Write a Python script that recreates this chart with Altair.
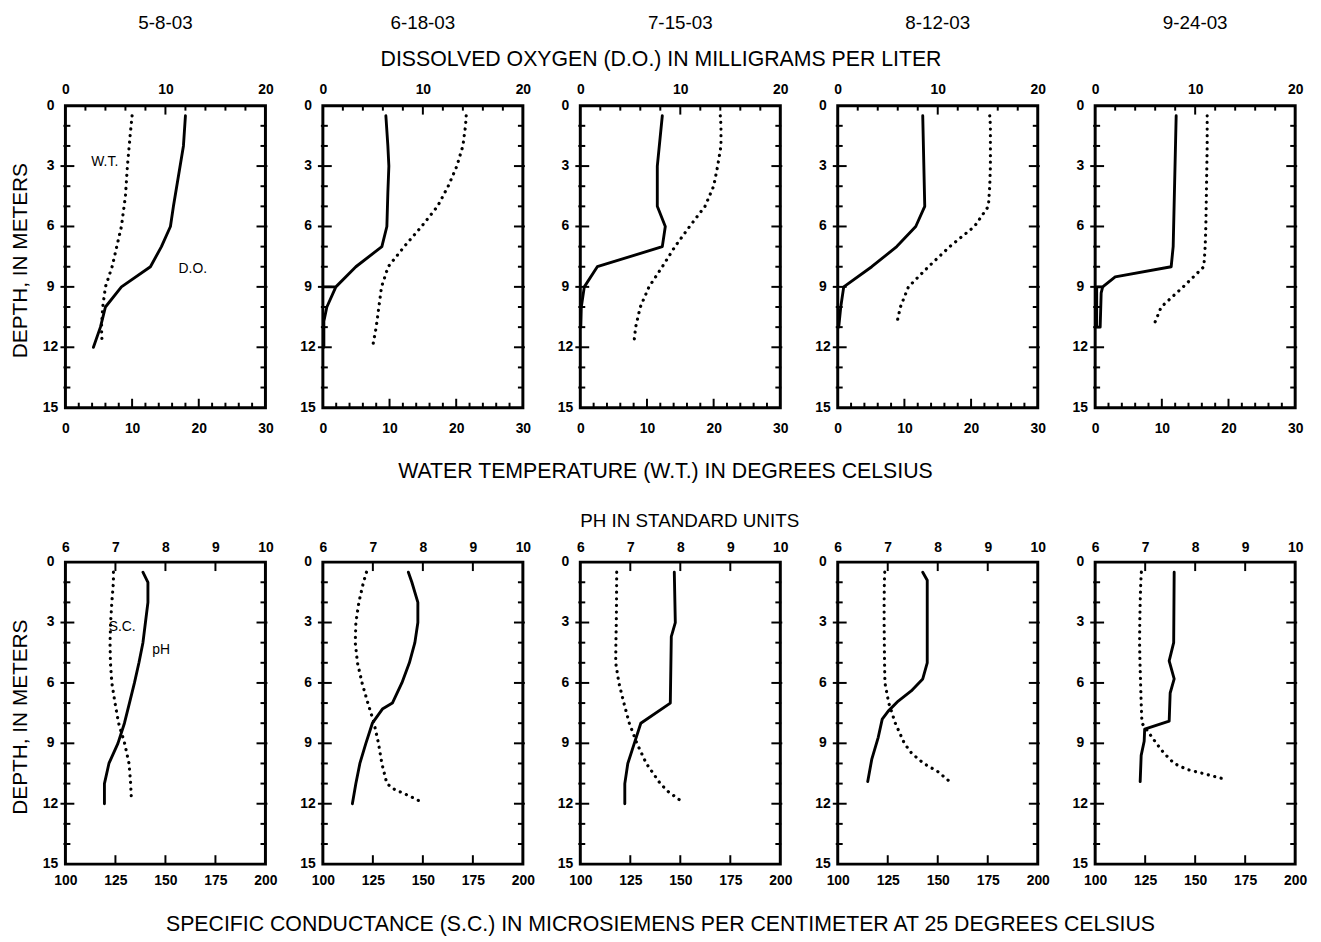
import altair as alt
import pandas as pd

FONT = "Liberation Sans"

DATES = ["5-8-03", "6-18-03", "7-15-03", "8-12-03", "9-24-03"]

# ---- top row: (depth m, dissolved oxygen mg/L) and (depth m, water temperature deg C)
DO_0508 = [(0.5, 12.0), (2, 11.8), (5, 10.8), (6, 10.5), (7, 9.6), (8, 8.5), (9, 5.6),
           (10, 4.0), (11, 3.5), (12, 2.8)]
WT_0508 = [(0.5, 10.0), (1.5, 9.7), (3, 9.3), (4.5, 9.0), (6, 8.4), (7, 7.7), (8, 7.0),
           (9, 6.0), (10, 5.6), (11, 5.4), (11.8, 5.5)]

DO_0618 = [(0.5, 6.3), (2, 6.5), (3, 6.6), (4.3, 6.5), (6, 6.4), (7, 5.9), (8, 3.3),
           (9, 1.3), (9, 0.05), (9, 1.3), (10, 0.4), (10.7, 0.1), (12, 0.1)]
WT_0618 = [(0.5, 21.5), (1, 21.4), (2, 21.0), (3, 20.1), (4, 18.8), (5, 17.2), (6, 14.8),
           (7, 12.2), (8, 9.8), (9, 8.8), (10, 8.4), (11, 8.0), (11.9, 7.5)]

DO_0715 = [(0.5, 8.2), (3, 7.7), (5, 7.7), (6, 8.5), (7, 8.2), (8, 1.7), (9, 0.4),
           (10, 0.1), (11, 0.05)]
WT_0715 = [(0.5, 21.0), (1, 21.1), (2, 21.1), (3, 20.6), (4, 20.0), (5, 18.7), (6, 16.4),
           (7, 14.2), (8, 12.3), (9, 10.3), (10, 9.0), (11, 8.3), (11.9, 8.0)]

DO_0812 = [(0.5, 8.5), (5, 8.7), (6, 7.8), (7, 5.9), (8, 3.4), (9, 0.6), (10, 0.3),
           (11, 0.1)]
WT_0812 = [(0.5, 22.8), (1, 22.9), (2, 22.9), (3, 22.9), (4, 22.8), (5, 22.6), (6, 20.5),
           (7, 16.8), (8, 13.6), (9, 10.6), (10, 9.4), (10.9, 8.8)]

DO_0924 = [(0.5, 8.1), (7, 7.8), (8, 7.6), (8.5, 2.0), (9, 0.75), (9, 0.15), (11, 0.15),
           (11, 0.5), (9.3, 0.6), (9, 0.75)]
WT_0924 = [(0.5, 16.8), (2, 16.8), (4, 16.7), (6, 16.6), (7, 16.5), (8, 16.3), (9, 13.2),
           (10, 9.9), (10.9, 8.8)]

# ---- bottom row: (depth m, pH) and (depth m, specific conductance uS/cm)
PH_0508 = [(0.5, 7.55), (1, 7.65), (2, 7.65), (3, 7.6), (4, 7.55), (5, 7.47), (6, 7.38),
           (7, 7.28), (8, 7.18), (9, 7.05), (10, 6.87), (11, 6.78), (12, 6.78)]
SC_0508 = [(0.5, 124), (1, 124), (2, 123.2), (3, 122.6), (4, 122.3), (5, 122.5), (6, 123.2),
           (7, 124.8), (8, 126.6), (9, 129.6), (10, 131.8), (11, 132.6), (11.8, 133)]

PH_0618 = [(0.5, 7.71), (1, 7.78), (2, 7.9), (3, 7.9), (4, 7.84), (5, 7.73), (6, 7.58),
           (7, 7.39), (7.3, 7.19), (8, 6.99), (9, 6.86), (10, 6.74), (11, 6.66), (12, 6.59)]
SC_0618 = [(0.5, 121.8), (1, 120.3), (2, 118), (3, 116.5), (4, 116.2), (5, 117.3),
           (6, 119.6), (7, 122.5), (8, 125.6), (9, 127.8), (10, 129.5), (11, 132),
           (11.3, 136), (11.6, 143), (11.9, 149)]

PH_0715 = [(0.5, 7.88), (3, 7.9), (3.7, 7.82), (7, 7.8), (8, 7.21), (9, 7.08), (10, 6.95),
           (11, 6.89), (12, 6.89)]
SC_0715 = [(0.5, 118.2), (2, 118.1), (3, 118), (4, 117.8), (5, 117.7), (6, 119.3),
           (7, 121.8), (8, 124.5), (9, 128.3), (10, 133), (11, 140), (11.4, 144), (11.8, 149.5)]

PH_0812 = [(0.5, 7.7), (0.9, 7.79), (5, 7.79), (5.8, 7.7), (6.4, 7.47), (6.9, 7.21),
           (7.4, 7.01), (7.8, 6.89), (8.7, 6.81), (9.8, 6.68), (10.9, 6.6)]
SC_0812 = [(0.5, 123.5), (1, 123.3), (2, 123.2), (3, 123.2), (4, 123.3), (5, 123.4),
           (6, 123.6), (7, 125.5), (8, 128.8), (9, 133.3), (9.5, 137), (10, 143),
           (10.4, 150), (10.9, 156)]

PH_0924 = [(0.5, 7.58), (4, 7.57), (4.9, 7.48), (5.8, 7.58), (6.5, 7.5), (7.9, 7.48),
           (8.3, 6.99), (8.9, 6.98), (9.6, 6.92), (10.9, 6.9)]
SC_0924 = [(0.5, 123.1), (1, 122.8), (2, 122.5), (3, 122.3), (4, 122.2), (5, 122.4),
           (6, 122.7), (7, 123), (8, 123.4), (8.5, 127), (9, 130.6), (9.5, 134.5),
           (10, 139.5), (10.3, 146), (10.5, 154), (10.8, 165.5)]

TOP_SOLID = [DO_0508, DO_0618, DO_0715, DO_0812, DO_0924]
TOP_DOTTED = [WT_0508, WT_0618, WT_0715, WT_0812, WT_0924]
BOT_SOLID = [PH_0508, PH_0618, PH_0715, PH_0812, PH_0924]
BOT_DOTTED = [SC_0508, SC_0618, SC_0715, SC_0812, SC_0924]

# ---- axes
DEPTH_DOMAIN = [0, 15]
DEPTH_LABELS = [0, 3, 6, 9, 12, 15]
DEPTH_MAJOR = [3, 6, 9, 12]
DEPTH_MINOR = [1, 2, 4, 5, 7, 8, 10, 11, 13, 14]

DO_DOMAIN = [0, 20]
DO_LABELS = [0, 10, 20]
DO_MAJOR = [10]
DO_MINOR = [2, 4, 6, 8, 12, 14, 16, 18]

WT_DOMAIN = [0, 30]
WT_LABELS = [0, 10, 20, 30]
WT_MAJOR = [10, 20]
WT_MINOR = [2, 4, 6, 8, 12, 14, 16, 18, 22, 24, 26, 28]

PH_DOMAIN = [6, 10]
PH_LABELS = [6, 7, 8, 9, 10]
PH_MAJOR = [7, 8, 9]
PH_MINOR = []

SC_DOMAIN = [100, 200]
SC_LABELS = [100, 125, 150, 175, 200]
SC_MAJOR = [125, 150, 175]
SC_MINOR = []

TOP_TITLE = "DISSOLVED OXYGEN (D.O.) IN MILLIGRAMS PER LITER"
TOP_XTITLE = "WATER TEMPERATURE (W.T.) IN DEGREES CELSIUS"
BOT_TITLE = "PH IN STANDARD UNITS"
BOT_XTITLE = "SPECIFIC CONDUCTANCE (S.C.) IN MICROSIEMENS PER CENTIMETER AT 25 DEGREES CELSIUS"
YTITLE = "DEPTH, IN METERS"

# annotation labels: (text, value on the dotted-line scale, depth)
TOP_NOTES = [("W.T.", 5.9, 2.8), ("D.O.", 19.1, 8.1)]
BOT_NOTES = [("S.C.", 128.4, 3.2), ("pH", 147.8, 4.35)]

W = 202
H = 305


def series_df(pairs):
    return pd.DataFrame({"depth": [p[0] for p in pairs],
                         "v": [p[1] for p in pairs],
                         "seq": list(range(len(pairs)))})


def yscale():
    return alt.Scale(domain=DEPTH_DOMAIN, reverse=True, nice=False, zero=False)


def ydepth():
    return alt.Y("depth:Q", scale=yscale(), axis=None)


def xscale(dom):
    return alt.Scale(domain=dom, nice=False, zero=False)


def label_axis(orient, values, pad):
    return alt.Axis(orient=orient, values=values, ticks=False, tickSize=0, domain=False,
                    grid=False, labelPadding=pad, labelFont=FONT, labelFontSize=14,
                    labelFontWeight="bold", labelColor="black", labelFlush=False,
                    labelOverlap=False, format="d", title=None)


def xrules(vals, dom, y0, y1):
    return alt.Chart(pd.DataFrame({"v": vals})).mark_rule(color="black", strokeWidth=2).encode(
        x=alt.X("v:Q", scale=xscale(dom), axis=None),
        y=alt.value(y0), y2=alt.value(y1))


def yrules(vals, x0, x1):
    return alt.Chart(pd.DataFrame({"depth": vals})).mark_rule(color="black", strokeWidth=2).encode(
        y=ydepth(), x=alt.value(x0), x2=alt.value(x1))


def text(t, x, y, size, angle=0):
    return alt.Chart(pd.DataFrame({"t": [t]})).mark_text(
        font=FONT, fontSize=size, color="black", angle=angle,
        align="center", baseline="middle").encode(
        text="t:N", x=alt.value(x), y=alt.value(y))


def panel(i, solid, dotted, sdom, ddom, slabels, dlabels, smaj, smin, dmaj, dmin,
          pad_top, pad_bot, extra, notes):
    layers = [
        alt.Chart(series_df(solid)).mark_line(color="black", strokeWidth=2.9,
                                              strokeJoin="round", strokeCap="round").encode(
            x=alt.X("v:Q", scale=xscale(sdom), axis=label_axis("top", slabels, pad_top)),
            y=ydepth(), order="seq:Q"),
        alt.Chart(series_df(dotted)).mark_line(color="black", strokeWidth=3.2,
                                               strokeDash=[0.1, 6.6], strokeCap="round").encode(
            x=alt.X("v:Q", scale=xscale(ddom), axis=label_axis("bottom", dlabels, pad_bot)),
            y=ydepth(), order="seq:Q"),
        # depth labels drawn through the shared depth scale
        alt.Chart(pd.DataFrame({"depth": DEPTH_LABELS})).mark_text(
            font=FONT, fontSize=14, fontWeight="bold", color="black",
            align="center", baseline="middle").encode(
            text=alt.Text("depth:Q", format="d"), y=ydepth(), x=alt.value(-15)),
        # inward tick marks
        yrules(DEPTH_MINOR, -2, 5),
        yrules(DEPTH_MAJOR, -5, 9),
        yrules(DEPTH_MINOR, W - 5, W + 1),
        yrules(DEPTH_MAJOR, W - 9, W + 2),
    ]
    if smin:
        layers.append(xrules(smin, sdom, 0, 5))
    if smaj:
        layers.append(xrules(smaj, sdom, 0, 9))
    if dmin:
        layers.append(xrules(dmin, ddom, H - 5, H))
    if dmaj:
        layers.append(xrules(dmaj, ddom, H - 9, H))
    for args in extra:
        layers.append(text(*args))
    if notes:
        nd = pd.DataFrame({"t": [n[0] for n in notes], "x": [n[1] for n in notes],
                           "depth": [n[2] for n in notes]})
        layers.append(alt.Chart(nd).mark_text(font=FONT, fontSize=14, color="black",
                                              align="center", baseline="middle").encode(
            text="t:N",
            x=alt.X("x:Q", scale=xscale(ddom), axis=None),
            y=ydepth()))
    return alt.layer(*layers).resolve_scale(x="independent").properties(width=W, height=H)


top_panels = []
bot_panels = []
for i in range(5):
    extra_top = [(DATES[i], W / 2, -83, 19)]
    extra_bot = []
    if i == 0:
        extra_top.append((YTITLE, -45, H / 2 + 4, 21, 270))
        extra_bot.append((YTITLE, -45, H / 2 + 4, 21, 270))
    if i == 2:
        extra_top.append((TOP_TITLE, 81.5, -46, 21.5))
        extra_top.append((TOP_XTITLE, 86, H + 65, 21.5))
        extra_bot.append((BOT_TITLE, 110.5, -41, 19))
        extra_bot.append((BOT_XTITLE, 81, H + 62, 21.5))
    top_panels.append(panel(i, TOP_SOLID[i], TOP_DOTTED[i], DO_DOMAIN, WT_DOMAIN,
                            DO_LABELS, WT_LABELS, DO_MAJOR, DO_MINOR, WT_MAJOR, WT_MINOR,
                            9, 14, extra_top, TOP_NOTES if i == 0 else []))
    bot_panels.append(panel(i, BOT_SOLID[i], BOT_DOTTED[i], PH_DOMAIN, SC_DOMAIN,
                            PH_LABELS, SC_LABELS, PH_MAJOR, PH_MINOR, SC_MAJOR, SC_MINOR,
                            8, 10, extra_bot, BOT_NOTES if i == 0 else []))

chart = alt.concat(*top_panels, *bot_panels, columns=5,
                   spacing={"row": 156, "column": 58}, bounds="flush").properties(
    padding={"left": 0, "top": 0, "right": 4, "bottom": 0}
).configure_view(stroke="black", strokeWidth=3)

chart.save("out.html", embed_options={"renderer": "svg", "actions": False})
